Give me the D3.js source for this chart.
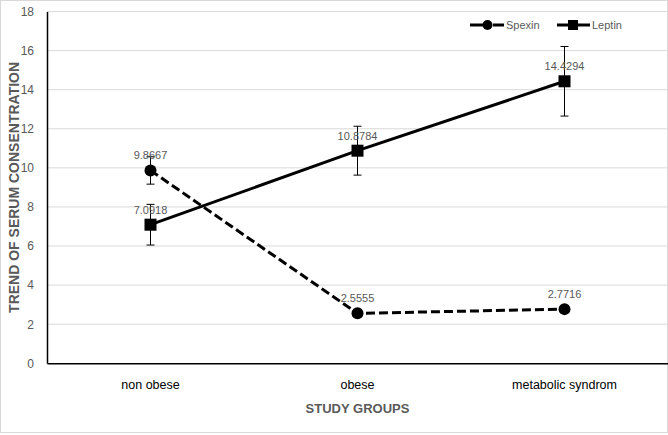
<!DOCTYPE html>
<html>
<head>
<meta charset="utf-8">
<script src="https://cdn.jsdelivr.net/npm/d3@7"></script>
<style>
  body { margin: 0; background: #fff; }
  text { font-family: "Liberation Sans", Arial, sans-serif; }
</style>
</head>
<body>
<svg id="chart" width="668" height="435"></svg>
<script>
// data
const groups = ["non obese", "obese", "metabolic syndrom"];
const spexin = [9.8667, 2.5555, 2.7716];
const spexinErr = [0.7, 0.1, 0.1];
const leptin = [7.0918, 10.8784, 14.4294];
const leptinErr = [1.04, 1.25, 1.78];
const yTicks = [0, 2, 4, 6, 8, 10, 12, 14, 16, 18];

const svg = d3.select("#chart");
const W = 668, H = 435;
const margin = { left: 47, right: 0, top: 11.5, bottom: 71.7 };

// outer border
svg.append("rect")
    .attr("x", 0.5).attr("y", 0.5)
    .attr("width", W - 1).attr("height", 432)
    .attr("fill", "none").attr("stroke", "#d9d9d9");

const x = d3.scaleBand()
    .domain(groups)
    .range([margin.left, W - margin.right]);

const y = d3.scaleLinear()
    .domain([0, 18])
    .range([H - margin.bottom, margin.top]);

const g = svg.append("g");

//grid
g.selectAll(".grid").data(yTicks.slice(1))
    .join("line")
    .attr("x1", margin.left).attr("x2", W)
    .attr("y1", d => y(d)).attr("y2", d => y(d))
    .attr("stroke", "#d9d9d9").attr("stroke-width", 1);

//y axis
const yAxis = g.append("g")
    .attr("transform", "translate(" + margin.left + ",0)")
    .call(d3.axisLeft(y).tickValues(yTicks).tickSize(0).tickPadding(13));
yAxis.select(".domain").attr("stroke", "#000").attr("stroke-width", 1.5);
yAxis.selectAll("text").attr("fill", "#595959").attr("font-size", "12px")
    .attr("font-family", "Liberation Sans, Arial");

//x axis
const xAxis = g.append("g")
    .attr("transform", "translate(0," + y(0) + ")")
    .call(d3.axisBottom(x).tickSize(0).tickPadding(17));
xAxis.select(".domain").attr("stroke", "#000").attr("stroke-width", 1.5);
xAxis.selectAll("text").attr("fill", "#000").attr("font-size", "12.5px")
    .attr("font-family", "Liberation Sans, Arial");

//axis titles
svg.append("text")
    .attr("transform", "translate(19," + ((y(0) + y(18)) / 2) + ") rotate(-90)")
    .attr("text-anchor", "middle")
    .attr("font-size", "14px").attr("font-weight", "bold")
    .attr("fill", "#595959")
    .text("TREND OF SERUM CONSENTRATION");

svg.append("text")
    .attr("x", x(groups[1]) + x.bandwidth() / 2)
    .attr("y", 413)
    .attr("text-anchor", "middle")
    .attr("font-size", "13px").attr("font-weight", "bold")
    .attr("fill", "#595959")
    .text("STUDY GROUPS");

const cx = d => x(d) + x.bandwidth() / 2;

function drawSeries(values, errs, dashed, marker) {
    const pts = groups.map((d, i) => ({ g: d, v: values[i], e: errs[i] }));

    // error bars
    const eb = g.append("g");
    pts.forEach(p => {
        eb.append("line")
            .attr("x1", cx(p.g)).attr("x2", cx(p.g))
            .attr("y1", y(p.v + p.e)).attr("y2", y(p.v - p.e))
            .attr("stroke", "#000").attr("stroke-width", 1);
        [p.v + p.e, p.v - p.e].forEach(v => {
            eb.append("line")
                .attr("x1", cx(p.g) - 4).attr("x2", cx(p.g) + 4)
                .attr("y1", y(v)).attr("y2", y(v))
                .attr("stroke", "#000").attr("stroke-width", 1);
        });
    });

    // line
    g.append("path")
        .datum(pts)
        .attr("d", d3.line().x(p => cx(p.g)).y(p => y(p.v)))
        .attr("fill", "none")
        .attr("stroke", "#000")
        .attr("stroke-width", 3)
        .attr("stroke-dasharray", dashed ? "9,4" : null);

    // markers
    pts.forEach(p => {
        if (marker === "circle") {
            g.append("circle").attr("cx", cx(p.g)).attr("cy", y(p.v)).attr("r", 6).attr("fill", "#000");
        } else {
            g.append("rect").attr("x", cx(p.g) - 6).attr("y", y(p.v) - 6)
                .attr("width", 12).attr("height", 12).attr("fill", "#000");
        }
    });

    // labels
    pts.forEach(p => {
        g.append("text")
            .attr("x", cx(p.g)).attr("y", y(p.v) - 11)
            .attr("text-anchor", "middle")
            .attr("font-size", "11px").attr("fill", "#595959")
            .text(p.v);
    });
}

drawSeries(spexin, spexinErr, true, "circle");
drawSeries(leptin, leptinErr, false, "square");

//legend
const lg = svg.append("g");
lg.append("line").attr("x1", 470).attr("x2", 504).attr("y1", 25).attr("y2", 25)
    .attr("stroke", "#000").attr("stroke-width", 3).attr("stroke-dasharray", "13,21");
lg.append("line").attr("x1", 493).attr("x2", 504).attr("y1", 25).attr("y2", 25)
    .attr("stroke", "#000").attr("stroke-width", 3);
lg.append("circle").attr("cx", 487.5).attr("cy", 25).attr("r", 5).attr("fill", "#000");
lg.append("text").attr("x", 506).attr("y", 29).attr("font-size", "11px").attr("fill", "#595959").text("Spexin");

lg.append("line").attr("x1", 557).attr("x2", 590).attr("y1", 25).attr("y2", 25)
    .attr("stroke", "#000").attr("stroke-width", 3);
lg.append("rect").attr("x", 568).attr("y", 20).attr("width", 10).attr("height", 10).attr("fill", "#000");
lg.append("text").attr("x", 592).attr("y", 29).attr("font-size", "11px").attr("fill", "#595959").text("Leptin");
</script>
</body>
</html>
